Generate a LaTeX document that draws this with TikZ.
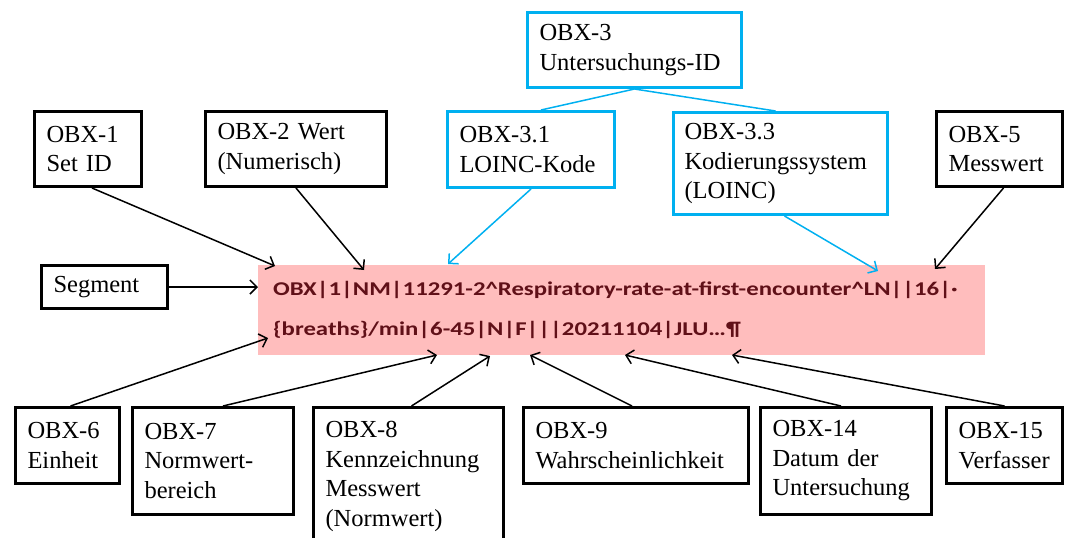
\documentclass[tikz,border=0pt]{standalone}
\usepackage{fontspec}
\setmainfont{Liberation Serif}
\newfontfamily\calfont{Carlito}[FakeStretch=1.27]
\usetikzlibrary{arrows.meta}
\definecolor{hlblue}{HTML}{00B0F0}
\definecolor{hlpink}{RGB}{255,189,189}
\definecolor{segtext}{RGB}{96,16,24}
\begin{document}
\begin{tikzpicture}[x=1pt,y=-1pt,
  box/.style={draw, line width=3pt, font=\fontsize{24.5}{29.5}\selectfont, align=left,
    inner xsep=12pt, inner ysep=0pt, anchor=north west},
  bluebox/.style={box, draw=hlblue},
  arr/.style={line width=1.5pt, -{Straight Barb[length=7pt,width=14pt]}},
  barr/.style={arr, draw=hlblue},
  bline/.style={line width=1.5pt, draw=hlblue}]
\useasboundingbox (0,0) rectangle (1066,538);

% pink segment box
\node[fill=hlpink, minimum width=727pt, minimum height=90pt, text width=697pt,
  inner xsep=15pt, inner ysep=0pt, align=left, anchor=north west, text=segtext,
  font=\calfont\bfseries\fontsize{19.5}{40}\selectfont] (rec) at (258,265)
  {\mbox{OBX|1|NM|11291-2\textasciicircum Respiratory-rate-at-first-encounter\textasciicircum LN||16|·}\\
   \mbox{\{breaths\}/min|6-45|N|F|||20211104|JLU…¶}};

% top boxes
\node[box, minimum width=107pt, minimum height=75pt, text width=83pt] (b1) at (33,110) {OBX-1\\Set ID};
\node[box, minimum width=181pt, minimum height=75pt, text width=157pt] (b2) at (204,110) {OBX-2 Wert\\(Numerisch)};
\node[bluebox, minimum width=167pt, minimum height=76pt, text width=143pt] (b31) at (446,110) {OBX-3.1\\LOINC-Kode};
\node[bluebox, minimum width=214pt, minimum height=75pt, text width=190pt] (b3) at (526,11) {OBX-3\\Untersuchungs-ID};
\node[bluebox, minimum width=214pt, minimum height=102pt, text width=192pt, inner xsep=11pt] (b33) at (672,111) {OBX-3.3\\Kodierungssystem\\(LOINC)};
\node[box, minimum width=126pt, minimum height=75pt, text width=102pt] (b5) at (935,110) {OBX-5\\Messwert};
\node[box, minimum width=126pt, minimum height=43pt, text width=102pt] (seg) at (40,264) {Segment};

% bottom boxes
\node[box, minimum width=104pt, minimum height=76pt, text width=80pt] (b6) at (14,406) {OBX-6\\Einheit};
\node[box, minimum width=161pt, minimum height=107pt, text width=137pt] (b7) at (131,406) {OBX-7\\Normwert-\\bereich};
\node[box, minimum width=190pt, minimum height=138pt, text width=166pt] (b8) at (312,406) {OBX-8\\Kennzeichnung\\Messwert\\(Normwert)};
\node[box, minimum width=225pt, minimum height=76pt, text width=201pt] (b9) at (522,406) {OBX-9\\Wahrscheinlichkeit};
\node[box, minimum width=171pt, minimum height=107pt, text width=147pt] (b14) at (759,406) {OBX-14\\Datum der\\Untersuchung};
\node[box, minimum width=116pt, minimum height=76pt, text width=92pt] (b15) at (945,406) {OBX-15\\Verfasser};

% arrow tips
\coordinate (t1) at (275,266);
\coordinate (t2) at (364,270);
\coordinate (t31) at (448,264);
\coordinate (t33) at (878,271);
\coordinate (t5) at (935,269);
\coordinate (t6) at (268,338);
\coordinate (t7) at (437,355);
\coordinate (t8) at (490,356);
\coordinate (t9) at (530,355);
\coordinate (t14) at (625,355);
\coordinate (t15) at (732,355);

% connectors
\draw[arr] ([xshift=4pt]b1.south) -- (t1);
\draw[arr] (b2.south) -- (t2);
\draw[barr] (b31.south) -- (t31);
\draw[bline] (b3.south) -- ([xshift=10pt]b31.north);
\draw[bline] (b3.south) -- ([xshift=-5pt]b33.north);
\draw[barr] ([xshift=4pt]b33.south) -- (t33);
\draw[arr] ([xshift=4pt]b5.south) -- (t5);
\draw[arr] (seg.east) -- (seg.east -| rec.west);
\draw[arr] ([xshift=3pt]b6.north) -- (t6);
\draw[arr] ([xshift=10pt]b7.north) -- (t7);
\draw[arr] ([xshift=3pt]b8.north) -- (t8);
\draw[arr] ([xshift=-4pt]b9.north) -- (t9);
\draw[arr] ([xshift=-5pt]b14.north) -- (t14);
\draw[arr] (b15.north) -- (t15);
\end{tikzpicture}
\end{document}
